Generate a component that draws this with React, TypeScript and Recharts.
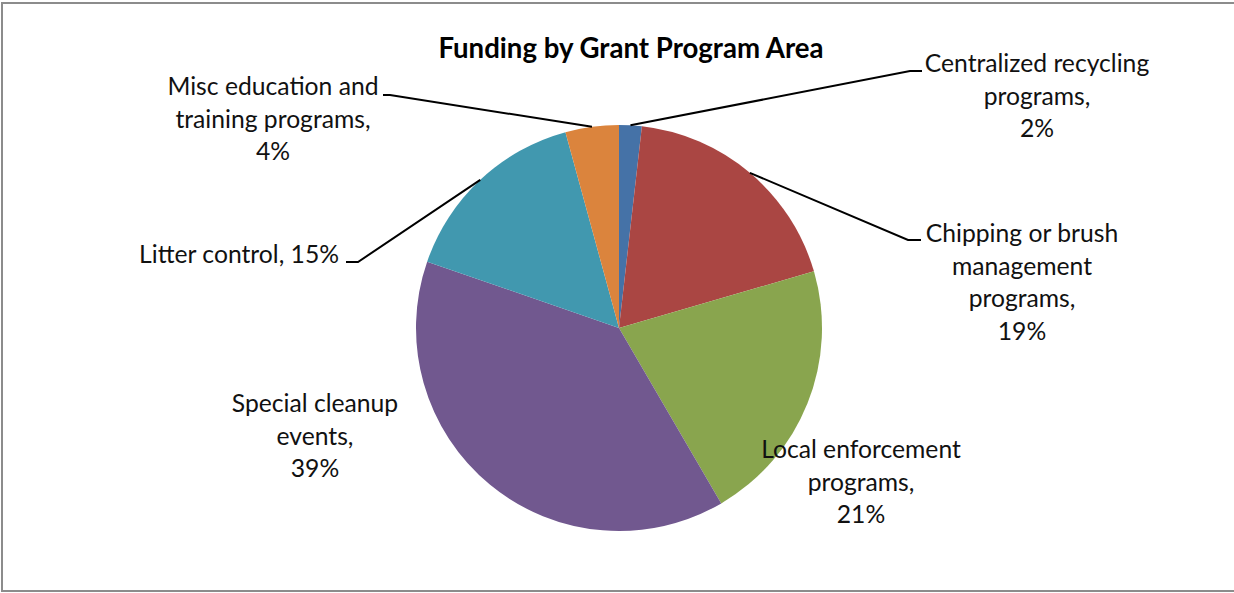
import React from "react";
import { PieChart, Pie, Cell } from "recharts";

// category names, wrapped the way the original chart breaks them
const categoryLines = [
  ["Centralized recycling", "programs"],
  ["Chipping or brush", "management", "programs"],
  ["Local enforcement", "programs"],
  ["Special cleanup", "events"],
  ["Litter control"],
  ["Misc education and", "training programs"],
];
// share of funding, % (labels show them rounded)
const shares = [1.8, 18.7, 21.1, 38.7, 15.45, 4.25];
const colors = [
  "#4572A7", // blue
  "#AA4643", // red
  "#89A54E", // green
  "#71588F", // purple
  "#4198AF", // teal
  "#DB843D", // orange
];

// where each label sits, relative to the pie centre
const labelLayout = [
  { dx: 418, dy: -256, anchor: "middle", inline: false, leader: [[291, -257], [303, -257]] },
  { dx: 403, dy: -86, anchor: "middle", inline: false, leader: [[289, -88], [302, -88]] },
  { dx: 242, dy: 130, anchor: "middle", inline: false, leader: null },
  { dx: -304, dy: 84, anchor: "middle", inline: false, leader: null },
  { dx: -280, dy: -65, anchor: "end", inline: true, leader: [[-261, -66], [-273, -66]] },
  { dx: -346, dy: -233, anchor: "middle", inline: false, leader: [[-229, -233], [-236, -233]] },
];

const data = categoryLines.map((lines, i) => ({
  name: lines.join(" "),
  value: shares[i],
}));

const FONT = "Lato, 'Noto Sans', sans-serif";
const LINE_H = 32.5;
const RAD = Math.PI / 180;

const renderLabel = (props: any) => {
  const { cx, cy, midAngle, outerRadius, index, percent } = props;
  const layout = labelLayout[index];
  const pct = `${Math.round(percent * 100)}%`;
  const lines = [...categoryLines[index]];
  lines[lines.length - 1] = lines[lines.length - 1] + ",";
  if (layout.inline) {
    lines[lines.length - 1] = lines[lines.length - 1] + " " + pct;
  } else {
    lines.push(pct);
  }

  const sx = cx + outerRadius * Math.cos(-midAngle * RAD);
  const sy = cy + outerRadius * Math.sin(-midAngle * RAD);
  const tx = cx + layout.dx;
  const ty = cy + layout.dy;

  return (
    <g key={`lbl-${index}`}>
      {layout.leader && (
        <polyline
          points={[[sx, sy], ...layout.leader.map(([x, y]) => [cx + x, cy + y])]
            .map((p) => p.join(","))
            .join(" ")}
          fill="none"
          stroke="#000"
          strokeWidth={2}
        />
      )}
      <text
        x={tx}
        y={ty}
        textAnchor={layout.anchor}
        fontFamily={FONT}
        fontSize={24.7}
        fill="#111"
      >
        {lines.map((line, j) => (
          <tspan key={j} x={tx} y={ty + j * LINE_H}>
            {line}
          </tspan>
        ))}
      </text>
    </g>
  );
};

export default function App() {
  return (
    <div
      style={{
        position: "fixed",
        left: 0,
        top: 0,
        width: 1234,
        height: 593,
        background: "#fff",
        overflow: "hidden",
      }}
    >
      <PieChart width={1234} height={593} margin={{ top: 0, right: 0, bottom: 0, left: 0 }}>
        <Pie
          data={data}
          dataKey="value"
          nameKey="name"
          cx={619}
          cy={328}
          outerRadius={203}
          startAngle={90}
          endAngle={-270}
          stroke="none"
          labelLine={false}
          label={renderLabel}
          isAnimationActive={false}
        >
          {data.map((d, i) => (
            <Cell key={d.name} fill={colors[i]} />
          ))}
        </Pie>
      </PieChart>
      <svg
        width={1234}
        height={593}
        style={{ position: "absolute", left: 0, top: 0, pointerEvents: "none" }}
      >
        <text
          x={631}
          y={58}
          textAnchor="middle"
          fontFamily={FONT}
          fontWeight="bold"
          fontSize={27.6}
          fill="#000"
        >
          Funding by Grant Program Area
        </text>
      </svg>
      <div
        style={{
          position: "absolute",
          left: 1,
          top: 2,
          width: 1233,
          height: 590,
          boxSizing: "border-box",
          border: "2px solid #8c8c8c",
          borderRight: "none",
          pointerEvents: "none",
        }}
      />
    </div>
  );
}
